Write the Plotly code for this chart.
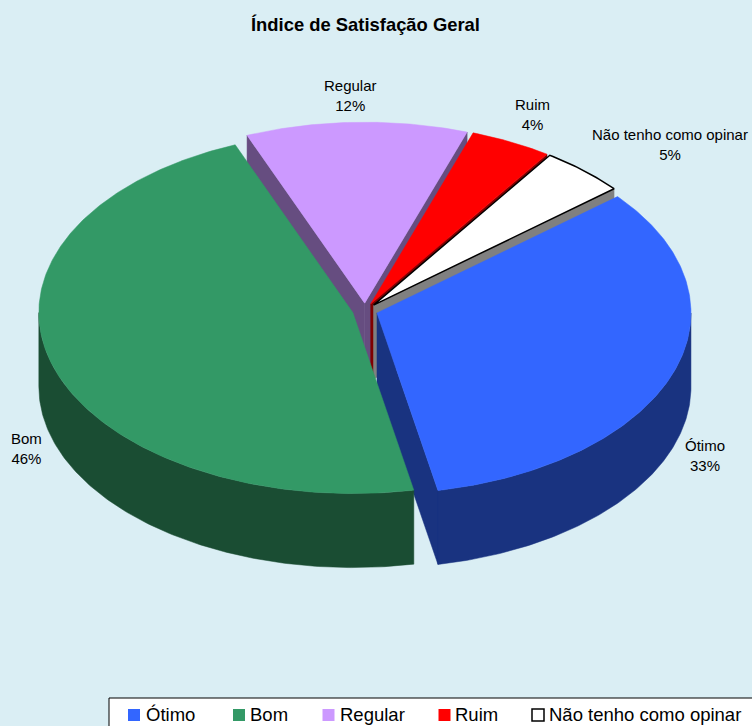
import math
import plotly.graph_objects as go

# ---- data ----
CATEGORIES = ["Ótimo", "Bom", "Regular", "Ruim", "Não tenho como opinar"]
VALUES = [33.0, 47.0, 11.4, 4.2, 4.4]
PERCENT_LABELS = ["33%", "46%", "12%", "4%", "5%"]
TITLE = "Índice de Satisfação Geral"

# ---- style ----
TOP_COLORS = ["#3366FF", "#339966", "#CC99FF", "#FF0000", "#FFFFFF"]
WALL_COLORS = ["#193380", "#1A4D33", "#664D80", "#800000", "#808080"]
BG = "#DAEEF4"
FONT = "Liberation Sans, Arial, sans-serif"

# ---- 3D pie projection (pixels of the 752x726 page) ----
CX, CY = 365.0, 310.5
RX, RY = 314.0, 181.0
DEPTH = 74.0
EXPLODE = 12.7
START_DEG = 50.0
DRAW_ORDER = [2, 3, 4, 0, 1]          # back to front

LABEL_POS = [(705, 455), (26, 448), (350, 95), (532, 114), (670, 144)]
LEGEND_BOX = (109, 698, 760, 735)
LEGEND_SWATCH_X = [134, 239, 328.5, 444.5, 538]
LEGEND_TEXT_X = [144, 248, 338, 453, 547]
LEGEND_Y = 715


def pt(deg, r=1.0, ox=CX, oy=CY, dz=0.0):
    a = math.radians(deg)
    return ox + r * RX * math.sin(a), oy - r * RY * math.cos(a) + dz


def arc(a0, a1, ox, oy, dz=0.0):
    n = max(2, int(abs(a1 - a0) * 1.5))
    return [pt(a0 + (a1 - a0) * i / n, 1.0, ox, oy, dz) for i in range(n + 1)]


def poly_trace(points, fill, line_color=None, line_width=0):
    xs = [p[0] for p in points] + [points[0][0]]
    ys = [p[1] for p in points] + [points[0][1]]
    return go.Scatter(
        x=xs, y=ys, mode="lines", fill="toself", fillcolor=fill,
        line=dict(color=line_color or fill, width=line_width if line_color else 0.5),
        hoverinfo="skip", showlegend=False,
    )


total = sum(VALUES)
spans = []
cursor = START_DEG
for v in VALUES:
    sweep = 360.0 * v / total
    spans.append((cursor, cursor + sweep))
    cursor += sweep

fig = go.Figure()

for i in DRAW_ORDER:
    a0, a1 = spans[i]
    mid = (a0 + a1) / 2
    m = math.radians(mid)
    ox = CX + EXPLODE * math.sin(m)
    oy = CY - EXPLODE * (RY / RX) * math.cos(m)
    wall = WALL_COLORS[i]
    outline = "#000000" if TOP_COLORS[i] == "#FFFFFF" else None

    # cut faces that look toward the viewer
    for edge, normal in ((a0, a0 - 90), (a1, a1 + 90)):
        if math.cos(math.radians(normal)) < 0:
            e = pt(edge, 1.0, ox, oy)
            fig.add_trace(poly_trace(
                [(ox, oy), e, (e[0], e[1] + DEPTH), (ox, oy + DEPTH)], wall))

    # outer rim, front half only
    lo, hi = a0 % 360, a0 % 360 + (a1 - a0)
    for w0, w1 in ((90, 270), (450, 630)):
        s, t = max(lo, w0), min(hi, w1)
        if s < t:
            top = arc(s, t, ox, oy)
            bottom = arc(t, s, ox, oy, DEPTH)
            fig.add_trace(poly_trace(top + bottom, wall))

    # top face
    fig.add_trace(poly_trace([(ox, oy)] + arc(a0, a1, ox, oy), TOP_COLORS[i],
                             outline, 1.5))

annotations = [dict(
    x=365, y=24.5, xref="x", yref="y", text=f"<b>{TITLE}</b>", showarrow=False,
    font=dict(family=FONT, size=18.4, color="#000000"),
)]
for name, pct, (lx, ly) in zip(CATEGORIES, PERCENT_LABELS, LABEL_POS):
    annotations.append(dict(
        x=lx, y=ly, xref="x", yref="y", text=f"{name}<br>{pct}", showarrow=False,
        font=dict(family=FONT, size=15, color="#000000"), align="center",
    ))

# legend row
fig.add_trace(go.Scatter(
    x=LEGEND_SWATCH_X, y=[LEGEND_Y] * len(CATEGORIES), mode="markers",
    marker=dict(symbol="square", size=12, color=TOP_COLORS,
                line=dict(color=["rgba(0,0,0,0)"] * 4 + ["#000000"], width=1.5)),
    hoverinfo="skip", showlegend=False, cliponaxis=False,
))
for name, tx in zip(CATEGORIES, LEGEND_TEXT_X):
    annotations.append(dict(
        x=tx, y=LEGEND_Y - 1, xref="x", yref="y", text=name, showarrow=False,
        xanchor="left", font=dict(family=FONT, size=18.5, color="#000000"),
    ))

fig.update_layout(
    width=752, height=726, autosize=False, margin=dict(l=0, r=0, t=0, b=0),
    paper_bgcolor=BG, plot_bgcolor=BG, showlegend=False,
    xaxis=dict(range=[0, 752], visible=False, fixedrange=True),
    yaxis=dict(range=[726, 0], visible=False, fixedrange=True),
    annotations=annotations,
    shapes=[dict(type="rect", xref="x", yref="y",
                 x0=LEGEND_BOX[0], y0=LEGEND_BOX[1], x1=LEGEND_BOX[2], y1=LEGEND_BOX[3],
                 fillcolor="#FFFFFF", line=dict(color="#000000", width=1), layer="below")],
)

fig.write_html("out.html", config={"displayModeBar": False},
               post_script="document.body.style.margin='0';document.body.style.overflow='hidden';")
